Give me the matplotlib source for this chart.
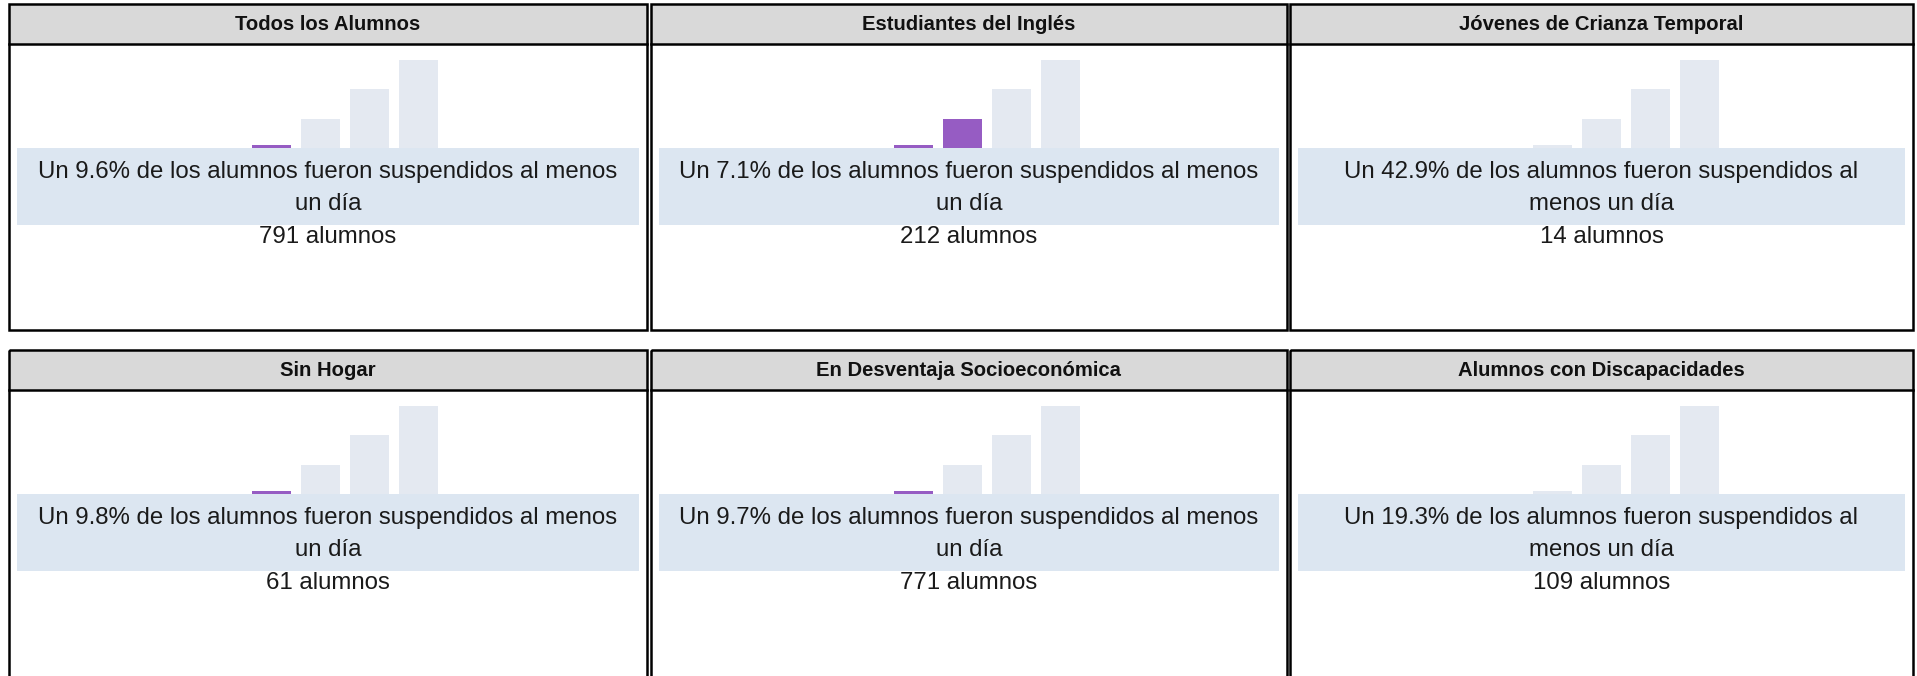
import textwrap
import matplotlib.pyplot as plt
import matplotlib.patches as mpatches

# Datos de los paneles
grupos = ["Todos los Alumnos", "Estudiantes del Inglés", "Jóvenes de Crianza Temporal",
          "Sin Hogar", "En Desventaja Socioeconómica", "Alumnos con Discapacidades"]
porcentajes = [9.6, 7.1, 42.9, 9.8, 9.7, 19.3]
alumnos = [791, 212, 14, 61, 771, 109]
barras_llenas = [1, 2, 0, 1, 1, 0]
alturas_icono = [0.1, 1, 2, 3]

# Colores
morado = "#965cc3"
gris_barra = "#e4e9f1"
banda = "#dce6f1"
cabecera = "#d9d9d9"

W, H = 1917, 676
plt.rcParams["font.family"] = ["Liberation Sans", "DejaVu Sans"]

fig = plt.figure(figsize=(W / 100, H / 100), dpi=100)
fondo = fig.add_axes([0, 0, 1, 1])
fondo.set_xlim(0, W)
fondo.set_ylim(H, 0)
fondo.axis("off")

columnas = [(9, 647), (651, 1287), (1290, 1913)]
filas = [4, 350]
altos_panel = [326, 360]
alto_cab = 40

for k, grupo in enumerate(grupos):
    x0, x1 = columnas[k % 3]
    y0 = filas[k // 3]
    xc = (x0 + x1) / 2

    # cabecera y marco
    fondo.add_patch(mpatches.Rectangle((x0, y0), x1 - x0, alto_cab, facecolor=cabecera,
                                       edgecolor="none"))
    fondo.add_patch(mpatches.Rectangle((x0, y0), x1 - x0, altos_panel[k // 3], facecolor="none",
                                       edgecolor="black", lw=1.8, zorder=5))
    fondo.plot([x0, x1], [y0 + alto_cab, y0 + alto_cab], color="black", lw=1.8, zorder=5)
    fondo.text(xc, y0 + 20, grupo, ha="center", va="center", fontsize=14.6,
               fontweight="bold", color="#111111")

    # banda con el texto
    base = y0 + 144
    fondo.add_patch(mpatches.Rectangle((x0 + 8, base), x1 - x0 - 16, 77, facecolor=banda,
                                       edgecolor="none"))
    frase = f"Un {porcentajes[k]}% de los alumnos fueron suspendidos al menos un día"
    lineas = textwrap.wrap(frase, 50)
    for j, linea in enumerate(lineas):
        fondo.text(xc, base + 24 + 32 * j, linea, ha="center", va="center",
                   fontsize=17.3, color="#1a1a1a")
    fondo.text(xc, base + 89, f"{alumnos[k]} alumnos", ha="center", va="center",
               fontsize=17.3, color="#1a1a1a")

    # icono de barras
    unidad_x, unidad_y = 49, 29.5
    ax_left = x0 + 238
    ax = fig.add_axes([ax_left / W, 1 - base / H, 4 * unidad_x / W, 3.05 * unidad_y / H])
    ax.set_xlim(-0.5, 3.5)
    ax.set_ylim(0, 3.05)
    ax.axis("off")
    colores = [morado if i < barras_llenas[k] else gris_barra for i in range(len(alturas_icono))]
    ax.bar(range(len(alturas_icono)), alturas_icono, width=0.8, color=colores)

fig.savefig("out.png", dpi=100)
